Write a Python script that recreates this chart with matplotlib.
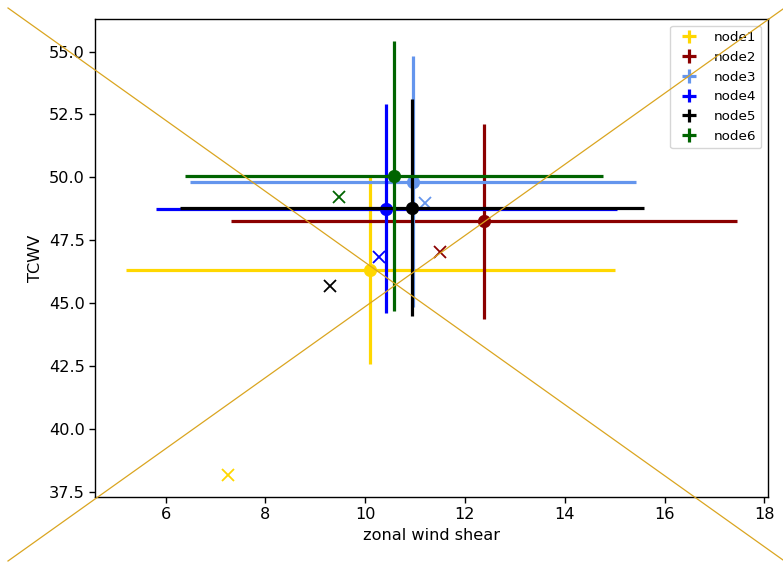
import matplotlib
matplotlib.use("Agg")
import matplotlib.pyplot as plt
from matplotlib.lines import Line2D

nodes = ["node1", "node2", "node3", "node4", "node5", "node6"]
colors = ["gold", "darkred", "cornflowerblue", "blue", "black", "darkgreen"]
mean_x = [10.10, 12.39, 10.96, 10.42, 10.94, 10.58]
mean_y = [46.30, 48.26, 49.83, 48.76, 48.80, 50.06]
xerr = [4.90, 5.07, 4.46, 4.62, 4.64, 4.18]
yerr = [3.72, 3.88, 5.00, 4.17, 4.30, 5.37]
alt_x = [7.26, 11.50, 11.20, 10.28, 9.30, 9.48]
alt_y = [38.16, 47.05, 49.00, 46.85, 45.70, 49.20]

plt.rcParams['font.family'] = ['DejaVu Sans']
plt.rcParams['font.size'] = 11.6

fig = plt.figure(figsize=(7.83, 5.71), dpi=100)
ax = fig.add_axes([95/783, (571-497)/571, 673/783, 478/571])

for i in range(len(nodes)):
    ax.errorbar(mean_x[i], mean_y[i], xerr=xerr[i], yerr=yerr[i], fmt='none',
                ecolor=colors[i], elinewidth=2.3, label=nodes[i])
    ax.plot(mean_x[i], mean_y[i], 'o', color=colors[i], markersize=8.5)
    ax.plot(alt_x[i], alt_y[i], 'x', color=colors[i], markersize=8, markeredgewidth=1.3)

ax.set_xlabel("zonal wind shear")
ax.set_ylabel("TCWV")
ax.set_xticks([6, 8, 10, 12, 14, 16, 18])
ax.set_yticks([37.5, 40.0, 42.5, 45.0, 47.5, 50.0, 52.5, 55.0])
ax.tick_params(length=4, width=1)
for s in ax.spines.values():
    s.set_linewidth(1.0)
ax.legend(loc='upper right', fontsize=9.7)

W, H = 783.0, 571.0
fig.add_artist(Line2D([8/W, 783/W], [1-8/H, 1-560/H], color='goldenrod', lw=0.9, zorder=10))
fig.add_artist(Line2D([8/W, 783/W], [1-561/H, 1-9/H], color='goldenrod', lw=0.9, zorder=10))

fig.savefig("out.png", dpi=100)
